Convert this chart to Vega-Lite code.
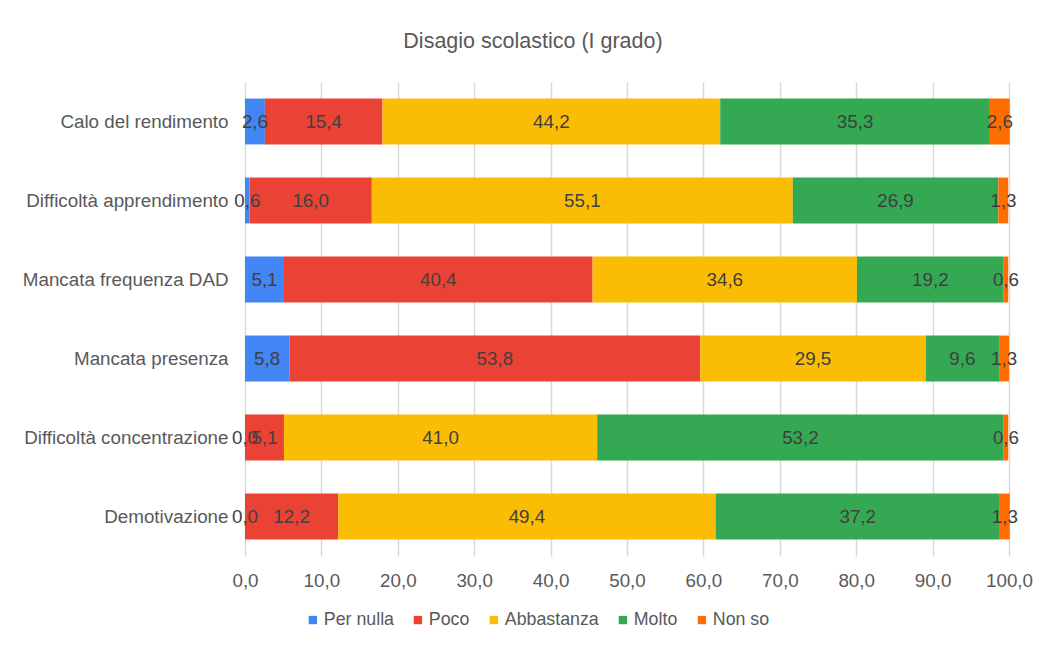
{
  "$schema": "https://vega.github.io/schema/vega-lite/v6.json",
  "width": 764,
  "height": 474,
  "autosize": {"type": "none"},
  "padding": {"left": 245, "top": 82, "right": 40, "bottom": 97},
  "background": "white",
  "title": {
    "text": "Disagio scolastico (I grado)",
    "anchor": "middle",
    "dx": -94,
    "offset": 30,
    "fontSize": 21.5,
    "font": "Liberation Sans",
    "fontWeight": "normal",
    "color": "#595959"
  },
  "data": {
    "values": [
      {"item": "Calo del rendimento", "cat": "Per nulla", "ord": 1, "value": 2.6},
      {"item": "Calo del rendimento", "cat": "Poco", "ord": 2, "value": 15.4},
      {"item": "Calo del rendimento", "cat": "Abbastanza", "ord": 3, "value": 44.2},
      {"item": "Calo del rendimento", "cat": "Molto", "ord": 4, "value": 35.3},
      {"item": "Calo del rendimento", "cat": "Non so", "ord": 5, "value": 2.6},
      {"item": "Difficoltà apprendimento", "cat": "Per nulla", "ord": 1, "value": 0.6},
      {"item": "Difficoltà apprendimento", "cat": "Poco", "ord": 2, "value": 16.0},
      {"item": "Difficoltà apprendimento", "cat": "Abbastanza", "ord": 3, "value": 55.1},
      {"item": "Difficoltà apprendimento", "cat": "Molto", "ord": 4, "value": 26.9},
      {"item": "Difficoltà apprendimento", "cat": "Non so", "ord": 5, "value": 1.3},
      {"item": "Mancata frequenza DAD", "cat": "Per nulla", "ord": 1, "value": 5.1},
      {"item": "Mancata frequenza DAD", "cat": "Poco", "ord": 2, "value": 40.4},
      {"item": "Mancata frequenza DAD", "cat": "Abbastanza", "ord": 3, "value": 34.6},
      {"item": "Mancata frequenza DAD", "cat": "Molto", "ord": 4, "value": 19.2},
      {"item": "Mancata frequenza DAD", "cat": "Non so", "ord": 5, "value": 0.6},
      {"item": "Mancata presenza", "cat": "Per nulla", "ord": 1, "value": 5.8},
      {"item": "Mancata presenza", "cat": "Poco", "ord": 2, "value": 53.8},
      {"item": "Mancata presenza", "cat": "Abbastanza", "ord": 3, "value": 29.5},
      {"item": "Mancata presenza", "cat": "Molto", "ord": 4, "value": 9.6},
      {"item": "Mancata presenza", "cat": "Non so", "ord": 5, "value": 1.3},
      {"item": "Difficoltà concentrazione", "cat": "Per nulla", "ord": 1, "value": 0.0},
      {"item": "Difficoltà concentrazione", "cat": "Poco", "ord": 2, "value": 5.1},
      {"item": "Difficoltà concentrazione", "cat": "Abbastanza", "ord": 3, "value": 41.0},
      {"item": "Difficoltà concentrazione", "cat": "Molto", "ord": 4, "value": 53.2},
      {"item": "Difficoltà concentrazione", "cat": "Non so", "ord": 5, "value": 0.6},
      {"item": "Demotivazione", "cat": "Per nulla", "ord": 1, "value": 0.0},
      {"item": "Demotivazione", "cat": "Poco", "ord": 2, "value": 12.2},
      {"item": "Demotivazione", "cat": "Abbastanza", "ord": 3, "value": 49.4},
      {"item": "Demotivazione", "cat": "Molto", "ord": 4, "value": 37.2},
      {"item": "Demotivazione", "cat": "Non so", "ord": 5, "value": 1.3}
    ]
  },
  "encoding": {
    "y": {
      "field": "item",
      "type": "nominal",
      "sort": ["Calo del rendimento", "Difficoltà apprendimento", "Mancata frequenza DAD", "Mancata presenza", "Difficoltà concentrazione", "Demotivazione"],
      "scale": {"paddingInner": 0.42, "paddingOuter": 0.21},
      "axis": {
        "title": null,
        "domain": false,
        "ticks": false,
        "grid": false,
        "labelPadding": 17,
        "labelLimit": 400,
        "labelFontSize": 18.8,
        "labelFont": "Liberation Sans",
        "labelColor": "#595959"
      }
    }
  },
  "layer": [
    {
      "mark": {"type": "bar"},
      "encoding": {
        "x": {
          "field": "value",
          "type": "quantitative",
          "stack": "zero",
          "scale": {"domain": [0, 100], "nice": false},
          "axis": {
            "title": null,
            "domain": false,
            "ticks": false,
            "grid": true,
            "gridColor": "#d9d9d9",
            "gridWidth": 1.5,
            "values": [0, 10, 20, 30, 40, 50, 60, 70, 80, 90, 100],
            "format": ".1f",
            "labelFlush": false,
            "labelOverlap": false,
            "labelPadding": 15,
            "labelFontSize": 18.8,
            "labelFont": "Liberation Sans",
            "labelColor": "#595959"
          }
        },
        "color": {
          "field": "cat",
          "type": "nominal",
          "sort": ["Per nulla", "Poco", "Abbastanza", "Molto", "Non so"],
          "scale": {
            "domain": ["Per nulla", "Poco", "Abbastanza", "Molto", "Non so"],
            "range": ["#4285F4", "#EA4335", "#FBBC04", "#34A853", "#FF6D01"]
          },
          "legend": {
            "title": null,
            "orient": "none",
            "legendX": 59,
            "legendY": 529,
            "direction": "horizontal",
            "symbolType": "square",
            "symbolSize": 70,
            "symbolStrokeWidth": 0,
            "labelFontSize": 17.8,
            "labelFont": "Liberation Sans",
            "labelColor": "#595959",
            "labelOffset": 2,
            "columnPadding": 15
          }
        },
        "order": {"field": "ord", "type": "quantitative"}
      }
    },
    {
      "mark": {"type": "text", "fontSize": 18.8, "font": "Liberation Sans", "color": "#404040", "baseline": "middle", "align": "center"},
      "encoding": {
        "x": {"field": "value", "type": "quantitative", "stack": "zero", "bandPosition": 0.5},
        "text": {"field": "value", "type": "quantitative", "format": ".1f"},
        "detail": {"field": "cat"},
        "order": {"field": "ord", "type": "quantitative"}
      }
    }
  ],
  "config": {
    "locale": {"number": {"decimal": ",", "thousands": ".", "grouping": [3], "currency": ["", " €"]}},
    "view": {"stroke": null}
  }
}
